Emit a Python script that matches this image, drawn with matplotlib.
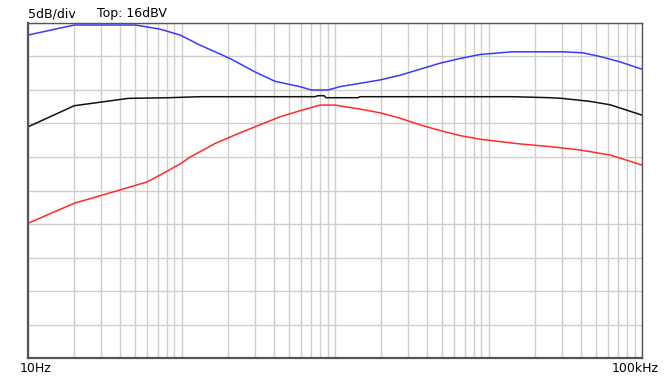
import matplotlib.pyplot as plt
from matplotlib.ticker import LogLocator, NullFormatter

# Frequenzgang, 5 dB/div, Top 16 dBV
f_blau = [10, 20, 50, 72, 98, 132, 207, 301, 406, 591, 700, 900, 1078, 1963, 2650, 3578,
          4830, 6520, 8800, 14220, 30120, 41280, 53220, 71960, 100000]
db_blau = [14.2, 15.7, 15.7, 15.1, 14.2, 12.7, 10.7, 8.7, 7.3, 6.5, 6.0, 6.0, 6.5, 7.5,
           8.2, 9.1, 10.0, 10.7, 11.3, 11.7, 11.7, 11.55, 11.0, 10.2, 9.1]

f_schwarz = [10, 20, 45, 83, 132, 741, 775, 848, 874, 1412, 1455, 14220, 25160,
             30120, 45830, 61880, 100000]
db_schwarz = [0.5, 3.65, 4.75, 4.85, 5.0, 5.0, 5.15, 5.15, 4.85, 4.85, 5.0, 5.0,
              4.85, 4.75, 4.3, 3.8, 2.25]

f_rot = [10, 20, 40, 60, 78, 100, 114, 165, 240, 324, 438, 591, 798, 1000, 1455,
         1963, 2650, 3578, 4830, 6520, 8800, 11880, 16040, 25160, 39460, 61880, 100000]
db_rot = [-13.9, -10.9, -8.9, -7.7, -6.3, -4.9, -4.0, -2.0, -0.4, 0.8, 2.0, 2.9,
          3.75, 3.75, 3.15, 2.6, 1.8, 0.8, -0.05, -0.8, -1.35, -1.7, -2.05, -2.45,
          -2.95, -3.7, -5.2]

fig = plt.figure(figsize=(6.72, 3.79), dpi=100)
ax = fig.add_axes([28/672, 1 - 358/379, (642 - 28)/672, (358 - 23)/379])

ax.plot(f_blau, db_blau, color='#3838ff', lw=1.1)
ax.plot(f_schwarz, db_schwarz, color='#111111', lw=1.1)
ax.plot(f_rot, db_rot, color='#ff2a2a', lw=1.1)

ax.set_xscale('log')
ax.set_xlim(10, 100000)
ax.set_ylim(-34, 16)
ax.set_yticks(range(-34, 17, 5))
ax.xaxis.set_major_locator(LogLocator(base=10, subs=range(1, 10), numticks=50))
ax.xaxis.set_minor_locator(LogLocator(base=10, subs=[], numticks=50))
ax.xaxis.set_major_formatter(NullFormatter())
ax.yaxis.set_major_formatter(NullFormatter())
ax.tick_params(length=0)
ax.grid(True, color='#cfcfcf', lw=1)
ax.set_axisbelow(True)

for s in ['left', 'bottom']:
    ax.spines[s].set_color('#555555')
    ax.spines[s].set_linewidth(1.6)
for s in ['top', 'right']:
    ax.spines[s].set_color('#555555')
    ax.spines[s].set_linewidth(1.0)

fig.text(28/672, 1 - 14/379, '5dB/div', fontsize=9, va='center', ha='left')
fig.text(97/672, 1 - 14/379, 'Top: 16dBV', fontsize=9, va='center', ha='left')
fig.text(36/672, 1 - 368/379, '10Hz', fontsize=9, va='center', ha='center')
fig.text(635/672, 1 - 368/379, '100kHz', fontsize=9, va='center', ha='center')

plt.savefig('out.png', dpi=100)
